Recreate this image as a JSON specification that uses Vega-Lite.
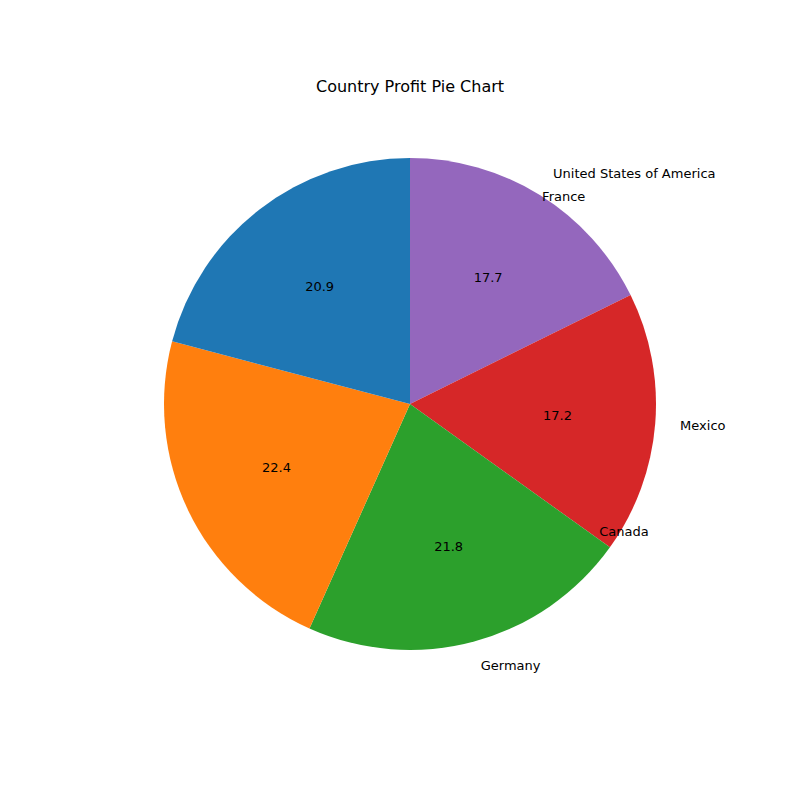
{
  "$schema": "https://vega.github.io/schema/vega-lite/v6.json",
  "width": 820,
  "height": 808,
  "autosize": "none",
  "padding": 0,
  "background": "#ffffff",
  "view": {"stroke": null},
  "title": {"text": "Country Profit Pie Chart", "font": "DejaVu Sans", "fontSize": 16, "fontWeight": "normal", "color": "#000000", "offset": -95},
  "data": {
    "values": [
      {"country": "United States of America", "pct": 17.7, "order": 1, "side": "right"},
      {"country": "Mexico", "pct": 17.2, "order": 2, "side": "right"},
      {"country": "Germany", "pct": 21.8, "order": 3, "side": "right"},
      {"country": "France", "pct": 22.4, "order": 4, "side": "left"},
      {"country": "Canada", "pct": 20.9, "order": 5, "side": "left"}
    ]
  },
  "encoding": {
    "theta": {"field": "pct", "type": "quantitative", "stack": true},
    "order": {"field": "order", "type": "quantitative"}
  },
  "layer": [
    {
      "mark": {"type": "arc", "outerRadius": 246},
      "encoding": {
        "color": {
          "field": "country", "type": "nominal", "legend": null,
          "scale": {
            "domain": ["Canada", "France", "Germany", "Mexico", "United States of America"],
            "range": ["#1f77b4", "#ff7f0e", "#2ca02c", "#d62728", "#9467bd"]
          }
        }
      }
    },
    {
      "mark": {"type": "text", "radius": 148, "font": "DejaVu Sans", "fontSize": 13, "color": "#000000"},
      "encoding": {"text": {"field": "pct", "type": "quantitative", "format": ".1f"}}
    },
    {
      "mark": {"type": "text", "radius": 148, "font": "DejaVu Sans", "fontSize": 13, "color": "#000000", "opacity": 0},
      "encoding": {"text": {"value": ""}}
    },
    {
      "transform": [{"filter": "datum.side == 'right'"}],
      "mark": {"type": "text", "radius": 271, "align": "left", "baseline": "middle", "font": "DejaVu Sans", "fontSize": 13, "color": "#000000"},
      "encoding": {
        "theta": {"field": "pct", "type": "quantitative", "stack": true},
        "text": {"field": "country"}
      }
    },
    {
      "transform": [{"filter": "datum.side == 'left'"}],
      "mark": {"type": "text", "radius": 271, "align": "right", "baseline": "middle", "font": "DejaVu Sans", "fontSize": 13, "color": "#000000"},
      "encoding": {
        "theta": {"field": "pct", "type": "quantitative", "stack": true},
        "text": {"field": "country"}
      }
    }
  ]
}
